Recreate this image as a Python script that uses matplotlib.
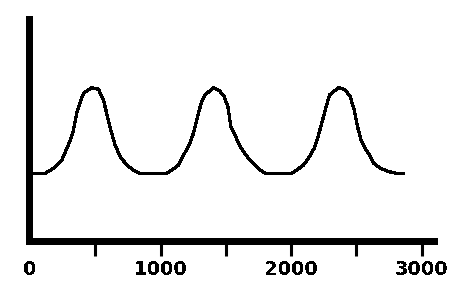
import numpy as np
import matplotlib
matplotlib.use("Agg")
import matplotlib.pyplot as plt

# curve (x in data units, y as fraction of the axis height)
x_vals = [0, 115, 179, 243, 294, 327, 363, 409, 473, 524, 562, 593, 618, 651, 690,
          741, 792, 843, 1047, 1086, 1137, 1175, 1213, 1247, 1277, 1310, 1341, 1405,
          1451, 1487, 1515, 1538, 1571, 1596, 1635, 1673, 1711, 1762, 1801, 2005,
          2043, 2094, 2141, 2176, 2202, 2227, 2261, 2294, 2363, 2414, 2452, 2483,
          2508, 2534, 2567, 2600, 2631, 2682, 2746, 2810, 2856]
y_vals = [0.300, 0.300, 0.323, 0.359, 0.426, 0.477, 0.580, 0.654, 0.679, 0.672,
          0.624, 0.551, 0.492, 0.426, 0.374, 0.337, 0.315, 0.300, 0.300, 0.315,
          0.337, 0.381, 0.418, 0.470, 0.536, 0.610, 0.647, 0.679, 0.666, 0.639,
          0.595, 0.507, 0.470, 0.433, 0.396, 0.367, 0.342, 0.315, 0.300, 0.300,
          0.315, 0.337, 0.374, 0.411, 0.455, 0.507, 0.580, 0.647, 0.679, 0.669,
          0.639, 0.580, 0.507, 0.448, 0.411, 0.381, 0.345, 0.323, 0.308, 0.300,
          0.300]

tick_pos = [0, 500, 1000, 1500, 2000, 2500, 3000]
tick_labels = ["0", "", "1000", "", "2000", "", "3000"]

plt.rcParams['text.antialiased'] = False

# axis height: from the x axis (241 px) to the top of the y axis (~15 px)
bottom = 281 - 241.3
top = 281 - 18.5
fig = plt.figure(figsize=(4.49, 2.81), dpi=100)
ax = fig.add_axes([28.5/449, bottom/281, (433.5-28.5)/449, (top-bottom)/281])

ax.plot(x_vals, y_vals, color="black", lw=1.6, antialiased=False)

ax.set_xlim(-12, 3090)
ax.set_ylim(0, (241.3 - 15 - 3.5) / 226.3)

for s in ["top", "right"]:
    ax.spines[s].set_visible(False)
for s in ["left", "bottom"]:
    ax.spines[s].set_linewidth(5)
    ax.spines[s].set_capstyle("projecting")
    ax.spines[s].set_antialiased(False)

ax.set_yticks([])
ax.set_xticks(tick_pos)
ax.set_xticklabels(tick_labels, fontsize=14, fontweight="bold")
ax.tick_params(axis="x", length=10.5, width=2.2, pad=3, color="black")
ax.xaxis.get_major_ticks()[0].tick1line.set_visible(False)

fig.savefig("out.png", dpi=100)
